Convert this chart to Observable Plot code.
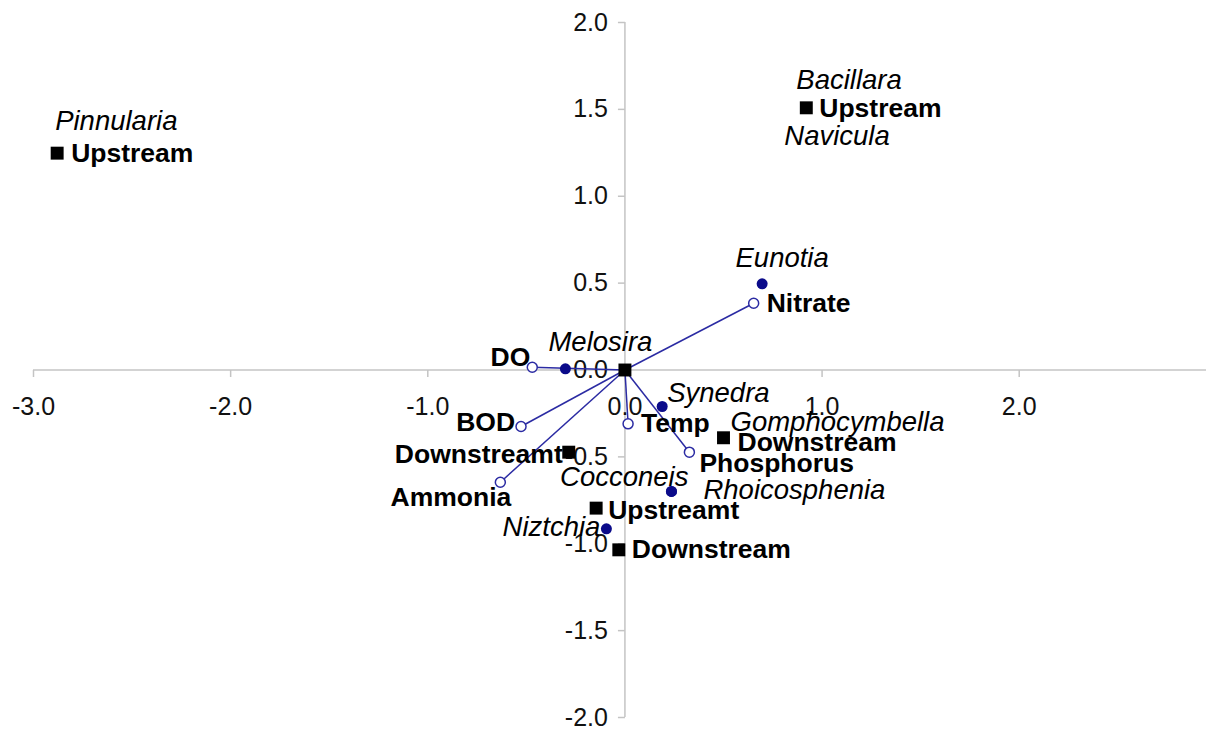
<!DOCTYPE html>
<html><head><meta charset="utf-8">
<script src="https://cdn.jsdelivr.net/npm/d3@7"></script>
<script src="https://cdn.jsdelivr.net/npm/@observablehq/plot@0.6"></script>
<style>body{margin:0;background:#fff;} svg{display:block;}</style>
</head><body><div id="chart"></div>
<script>
// ---- data ----
const xTicks = [-3, -2, -1, 0, 1, 2];
const yTicks = [-2, -1.5, -1, -0.5, 0, 0.5, 1, 1.5, 2];

const siteNames = ["Upstream", "Upstream", "", "Downstreamt", "Downstream", "Upstreamt", "Downstream"];
const siteX = [-2.88, 0.92, 0, -0.285, 0.50, -0.146, -0.031];
const siteY = [1.248, 1.509, 0, -0.473, -0.390, -0.795, -1.035];

const speciesNames = ["Pinnularia", "Bacillara", "Navicula", "Eunotia", "Melosira", "Synedra", "Gomphocymbella", "Cocconeis", "Rhoicosphenia", "Niztchia"];
const speciesX = [-2.88, 0.92, 0.92, 0.696, -0.302, 0.189, 0.50, 0.236, 0.236, -0.094];
const speciesY = [1.248, 1.509, 1.509, 0.496, 0.007, -0.210, -0.390, -0.699, -0.699, -0.914];

const envNames = ["DO", "Nitrate", "BOD", "Ammonia", "Temp", "Phosphorus"];
const envX = [-0.470, 0.653, -0.527, -0.632, 0.016, 0.327];
const envY = [0.016, 0.384, -0.325, -0.646, -0.310, -0.473];

// ---- label placement (style, not data) ----
const sitePlace = [
  {a: "start", dx: 14, dy: 0}, {a: "start", dx: 13, dy: 1}, {a: "start", dx: 0, dy: 0},
  {a: "end", dx: -6, dy: 2}, {a: "start", dx: 14, dy: 5}, {a: "start", dx: 12, dy: 2},
  {a: "start", dx: 13, dy: 0}
];
const speciesPlace = [
  {a: "start", dx: -2, dy: -32}, {a: "start", dx: -10, dy: -28}, {a: "start", dx: -22, dy: 28},
  {a: "middle", dx: 20, dy: -26}, {a: "middle", dx: 35, dy: -27}, {a: "start", dx: 5, dy: -13},
  {a: "start", dx: 7, dy: -16}, {a: "end", dx: 17, dy: -14}, {a: "start", dx: 32, dy: -1},
  {a: "end", dx: -6, dy: -2}
];
const envPlace = [
  {a: "end", dx: -2, dy: -10}, {a: "start", dx: 13, dy: 0}, {a: "end", dx: -6, dy: -4},
  {a: "end", dx: 11, dy: 15}, {a: "start", dx: 13, dy: 0}, {a: "start", dx: 10, dy: 11}
];

const sites = siteNames.map((n, i) => ({name: n, x: siteX[i], y: siteY[i], ...sitePlace[i]}));
const species = speciesNames.map((n, i) => ({name: n, x: speciesX[i], y: speciesY[i], ...speciesPlace[i]}));
const env = envNames.map((n, i) => ({name: n, x: envX[i], y: envY[i], ...envPlace[i]}));

const axisColor = "#c4c4c4";
const navy = "#0b0b8a";
const lineBlue = "#2b2ba3";
const FONT = "Liberation Sans, Arial, Helvetica, sans-serif";

const tickDown = {draw(ctx) { ctx.moveTo(0, 0); ctx.lineTo(0, 7); }};
const tickLeft = {draw(ctx) { ctx.moveTo(0, 0); ctx.lineTo(-7, 0); }};

function placedText(data, opts) {
  return data.filter(d => d.name).map(d => Plot.text([d], {
    x: "x", y: "y", text: "name", textAnchor: d.a, dx: d.dx, dy: d.dy,
    fontFamily: FONT, fill: "#000", ...opts
  }));
}

const chart = Plot.plot({
  width: 1206,
  height: 730,
  marginLeft: 33,
  marginRight: 0,
  marginTop: 22,
  marginBottom: 13,
  x: {domain: [-3, 2.95], axis: null},
  y: {domain: [-2, 2], axis: null},
  style: {fontFamily: FONT, background: "#fff"},
  marks: [
    // axes
    Plot.ruleY([0], {x1: -3, x2: 2.95, stroke: axisColor, strokeWidth: 1.5}),
    Plot.ruleX([0], {y1: -2, y2: 2, stroke: axisColor, strokeWidth: 1.5}),
    Plot.dot(xTicks.filter(d => d !== 0), {x: d => d, y: 0, symbol: tickDown, stroke: axisColor, strokeWidth: 1.5, r: 1}),
    Plot.dot(yTicks.filter(d => d !== 0), {x: 0, y: d => d, symbol: tickLeft, stroke: axisColor, strokeWidth: 1.5, r: 1}),
    Plot.text(xTicks, {x: d => d, y: 0, text: d => d.toFixed(1), dy: 37, fontSize: 25, fontFamily: FONT, fill: "#111"}),
    Plot.text(yTicks, {x: 0, y: d => d, text: d => d.toFixed(1), textAnchor: "end", dx: -17, fontSize: 25, fontFamily: FONT, fill: "#111"}),
    // environmental vectors
    Plot.link(env, {x1: 0, y1: 0, x2: "x", y2: "y", stroke: lineBlue, strokeWidth: 1.5}),
    Plot.dot(env, {x: "x", y: "y", r: 5, stroke: lineBlue, fill: "#fff", strokeWidth: 1.5}),
    // species
    Plot.dot(species, {x: "x", y: "y", r: 5.5, fill: navy}),
    // sites
    Plot.dot(sites, {x: "x", y: "y", symbol: "square", r: 7.3, fill: "#000"}),
    // labels
    ...placedText(env, {fontWeight: "bold", fontSize: 26.5}),
    ...placedText(sites, {fontWeight: "bold", fontSize: 26.5}),
    ...placedText(species, {fontStyle: "italic", fontSize: 27.5})
  ]
});
document.getElementById("chart").appendChild(chart);
</script>
</body></html>
